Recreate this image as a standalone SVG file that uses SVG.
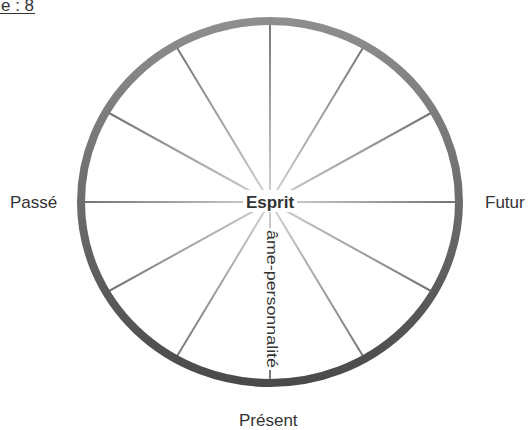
<svg xmlns="http://www.w3.org/2000/svg" width="528" height="430" viewBox="0 0 528 430">
  <defs>
    <linearGradient id="ringGrad" x1="0" y1="0" x2="0" y2="1">
      <stop offset="0" stop-color="#8e8e8e"/>
      <stop offset="1" stop-color="#4a4a4a"/>
    </linearGradient>
    <radialGradient id="spokeGrad" gradientUnits="userSpaceOnUse" cx="270" cy="202" r="189">
      <stop offset="0" stop-color="#d4d4d4"/>
      <stop offset="1" stop-color="#727272"/>
    </radialGradient>
    <style>
      .lbl { font-family: "Liberation Sans", Arial, sans-serif; font-size: 17px; fill: #333; }
      .spoke { stroke: url(#spokeGrad); stroke-width: 2; fill: none; }
    </style>
  </defs>
  <rect width="528" height="430" fill="#fff"/>

  <g id="caption">
    <text class="lbl" x="1" y="11">e : 8</text>
    <line x1="0" y1="13.5" x2="35" y2="13.5" stroke="#333" stroke-width="1"/>
  </g>

  <g id="connectors">
    <line class="spoke" x1="270" y1="202" x2="459" y2="202"/>
    <line class="spoke" x1="270" y1="202" x2="433.7" y2="292.5"/>
    <line class="spoke" x1="270" y1="202" x2="364.5" y2="358.8"/>
    <line class="spoke" x1="270" y1="202" x2="270" y2="383"/>
    <line class="spoke" x1="270" y1="202" x2="175.5" y2="358.8"/>
    <line class="spoke" x1="270" y1="202" x2="106.3" y2="292.5"/>
    <line class="spoke" x1="270" y1="202" x2="81" y2="202"/>
    <line class="spoke" x1="270" y1="202" x2="106.3" y2="111.5"/>
    <line class="spoke" x1="270" y1="202" x2="175.5" y2="45.2"/>
    <line class="spoke" x1="270" y1="202" x2="270" y2="21"/>
    <line class="spoke" x1="270" y1="202" x2="364.5" y2="45.2"/>
    <line class="spoke" x1="270" y1="202" x2="433.7" y2="111.5"/>
  </g>

  <g id="ring">
    <ellipse cx="270" cy="202" rx="189" ry="181" fill="none" stroke="url(#ringGrad)" stroke-width="8"/>
  </g>

  <g id="esprit">
    <rect x="243" y="190" width="54" height="22" fill="#fff"/>
    <text class="lbl" x="270" y="208" text-anchor="middle" font-weight="bold" fill="#222">Esprit</text>
  </g>

  <g id="ame-personnalite">
    <rect x="263" y="228" width="14" height="142" fill="#fff"/>
    <text class="lbl" transform="translate(267,230) rotate(90)" style="font-size:14px" textLength="138" lengthAdjust="spacingAndGlyphs">âme-personnalité</text>
  </g>

  <g id="passe">
    <text class="lbl" x="10" y="208">Passé</text>
  </g>
  <g id="futur">
    <text class="lbl" x="485" y="208">Futur</text>
  </g>
  <g id="present">
    <text class="lbl" x="239" y="426">Présent</text>
  </g>
</svg>
